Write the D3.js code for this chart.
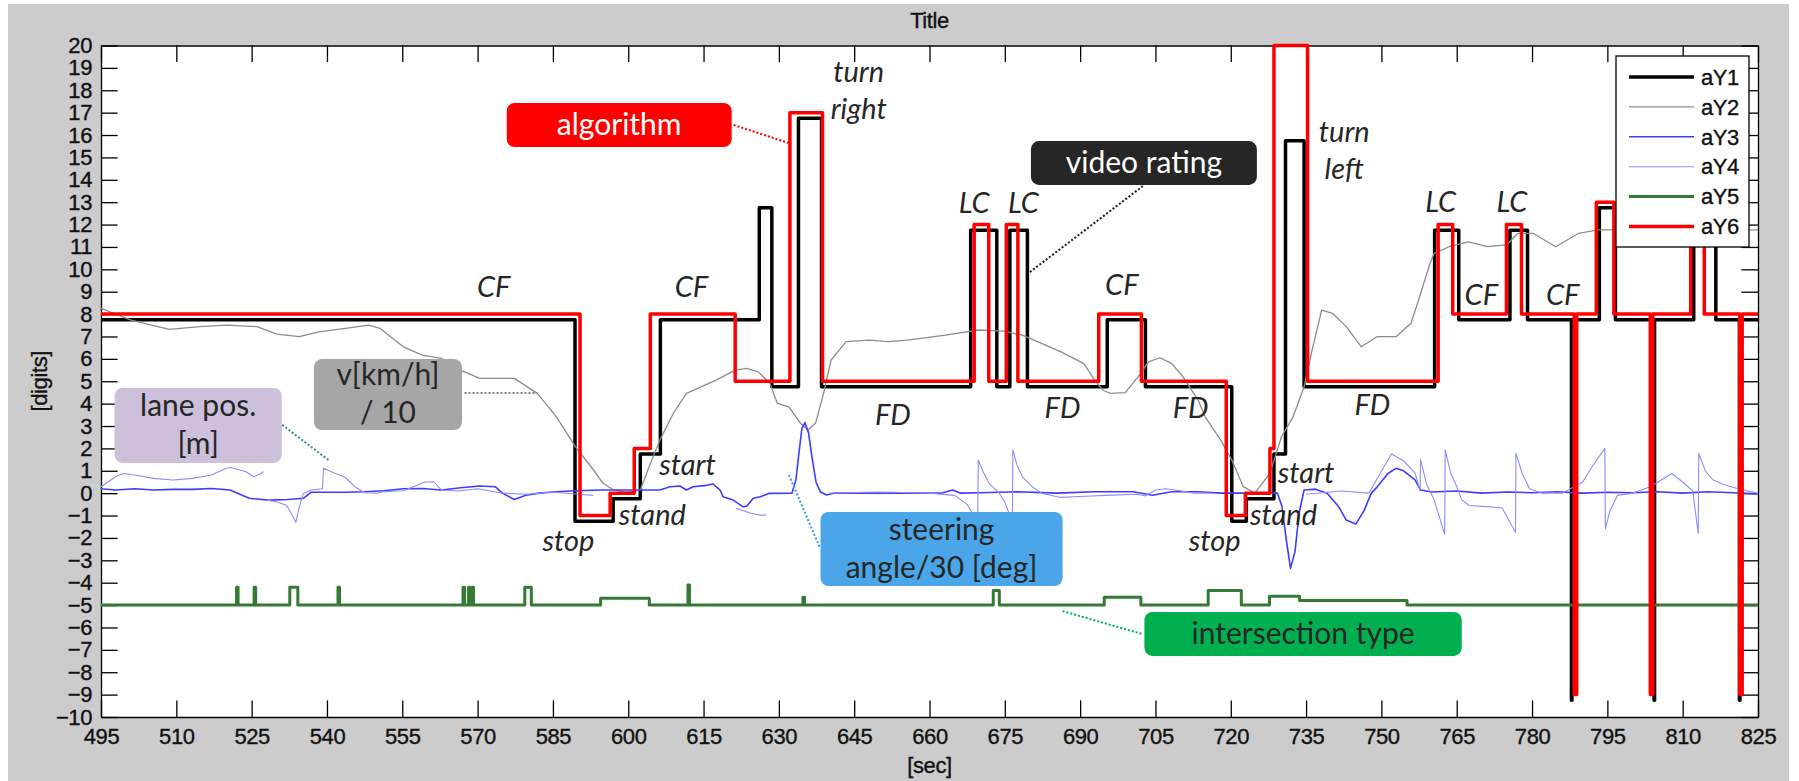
<!DOCTYPE html>
<html>
<head>
<meta charset="utf-8">
<script src="https://cdn.jsdelivr.net/npm/d3@7"></script>
<style>
  body { margin: 0; background: #fff; }
  svg { display: block; }
</style>
</head>
<body>
<div class="chart"></div>
<script>
// ---- data (time [sec], value [digits]) ----
var xTicks = d3.range(495, 826, 15);
var yTicks = d3.range(-10, 21, 1);
var seriesNames = ["aY1", "aY2", "aY3", "aY4", "aY5", "aY6"];

// video rating (black steps)
var aY1 = [[495,7.75],[589.4,-1.25],[597.0,-0.25],[602.4,1.75],[606.4,7.75],[626.1,12.75],[628.6,4.75],
  [633.9,16.75],[638.5,4.75],[668.2,11.75],[673.4,4.75],[676.0,11.75],[679.5,4.75],[695.4,7.75],[703.0,4.75],
  [720.2,-1.25],[723.1,-0.25],[728.6,1.75],[730.9,15.75],[734.6,4.75],[760.6,11.75],[765.4,7.75],[775.6,11.75],
  [779.1,7.75],[787.85,-9.25],[787.95,7.75],[793.4,12.75],[796.6,7.75],[804.3,-9.25],[804.4,7.75],[812.2,11.75],
  [816.6,7.75],[821.3,-9.25],[821.4,7.75],[825,7.75]];

// speed / 10 (grey)
var aY2 = [[495,8.26],[501,7.73],[508.6,7.32],[514.7,7.44],[520,7.51],[526.1,7.44],[530,7.11],[534.5,6.99],
  [538.4,7.21],[543.7,7.36],[548.3,7.51],[550.6,7.36],[555.2,6.54],[559,6.17],[562.8,6.02],[566.6,5.5],[570.4,5.13],
  [577.3,5.13],[581.9,4.46],[585.7,3.41],[589.5,2.07],[592.6,1.18],[595,0.44],[597,0.15],[599.5,0.05],[602.4,0.14],
  [604.2,1.2],[606.3,2.37],[609,3.57],[611.6,4.46],[617.5,5.05],[621.3,5.5],[623.6,5.58],[625.9,5.42],[628.2,4.91],
  [629.7,4.01],[632,3.86],[634.3,3.12],[635.8,2.82],[637.3,3.12],[638.9,4.46],[640.4,5.95],[643.4,6.77],[648,6.84],
  [651.8,6.77],[655.6,6.84],[663.2,7.06],[669.7,7.29],[674.7,7.24],[678.5,7.06],[682.3,6.69],[686.1,6.32],
  [690.7,5.8],[692.9,5.05],[694.5,4.61],[696,4.46],[699,4.49],[702.1,5.35],[703.6,5.87],[705.9,6.05],[708.2,5.8],
  [710.5,5.2],[713.5,4.16],[714.9,3.41],[718,2.37],[720.2,1.48],[722.5,0.29],[724.8,0.0],[727.8,0.89],[730.1,2.52],
  [732.4,3.41],[734.6,4.75],[736.2,6.39],[738.1,8.18],[740.3,8.03],[743,7.44],[746,6.54],[749.1,6.99],[752.9,6.99],
  [755.9,7.59],[757.4,8.63],[759.7,10.27],[760.5,10.71],[763.5,11.01],[767.3,11.23],[771.1,11.01],[774.9,11.09],
  [777.2,11.61],[780.2,11.61],[784.7,11.01],[789.3,11.61],[793.1,11.76],[796.1,11.76],[800,11.8],[805,11.7],
  [810,11.85],[815,11.7],[820,11.75],[825,11.76]];

// steering angle / 30 (blue)
var aY3 = [[495,0.2],[497.9,0.14],[501.7,0.2],[505.5,0.14],[509.4,0.17],[513.2,0.17],[517,0.21],[520.7,0.14],
  [524.5,-0.23],[528.4,-0.31],[532.2,-0.28],[535.3,-0.23],[536.8,0.04],[539.9,0.04],[543.7,0.04],[547.5,0.06],
  [551.3,0.11],[555.2,0.2],[559,0.21],[562.8,0.14],[566.6,0.24],[570.4,0.32],[573.5,0.29],[575,-0.01],[577.3,-0.28],
  [579.6,-0.09],[581.9,-0.01],[585.7,0.06],[589.5,0.11],[594.7,0.14],[601,0.14],[606.3,0.14],[608.3,0.29],
  [610.3,0.32],[611.6,0.14],[612.9,0.29],[615.6,0.35],[616.9,0.41],[618.3,0.14],[618.9,-0.16],[620.9,-0.31],
  [622.9,-0.61],[623.6,-0.58],[624.9,-0.23],[626.3,-0.16],[628,-0.01],[632.6,0.0],[633.4,0.6],[634.0,1.8],
  [634.6,2.9],[635.2,3.15],[635.9,2.7],[636.6,1.6],[637.4,0.5],[638.3,0.05],[639.5,-0.08],[640.9,0.0],[654.7,0.0],
  [662.3,0.0],[664.6,0.14],[666.2,0.0],[670,0.02],[677.6,0.06],[685.3,0.0],[692.9,0.06],[700.6,0.06],[704.4,-0.09],
  [708.2,0.06],[713.4,0.06],[718,0.0],[722,0.0],[725,0.02],[729.3,0.0],[730.2,-0.6],[731,-2.0],[731.9,-3.36],
  [732.8,-2.6],[733.6,-0.9],[734.6,0.14],[736.9,0.18],[739.2,0.0],[741.5,-0.61],[743,-1.2],[744.9,-1.38],
  [746.5,-0.8],[748,0.0],[749.1,0.26],[751.3,0.88],[752.9,1.11],[754.4,1.0],[756.7,0.59],[757.8,0.14],[760,0.05],
  [765,0.1],[770,0.0],[775,0.05],[780,0.02],[785,0.06],[790,0.0],[795,0.04],[800,0.02],[805,0.06],[810,0.0],
  [815,0.06],[820,0.02],[825,-0.03]];

// lane position (light blue, gaps where lane was lost)
var aY4 = [[495,0.29],[497.9,0.73],[499.4,0.88],[501.7,0.81],[505.5,0.66],[509.4,0.59],[513.2,0.66],[517,0.81],
  [520,1.11],[520.8,1.15],[523.9,0.96],[525.4,0.73],[526.9,0.88],[527.3,0.96], null,
  [528,-0.31],[530,-0.38],[532,-0.55],[533,-0.95],[533.8,-1.3],[534.5,-0.6],[535.3,-0.01],[536.8,0.14],[539.1,0.2],
  [539.3,1.11],[541,0.95],[543.7,0.7],[545.5,0.3],[547.5,0.02],[549.8,0.0],[551.3,0.06],[555.2,0.11],[558,0.35],
  [559.5,0.5],[561.3,0.51],[562.8,0.14],[566,0.1],[570,0.2],[575,0.0],[580,-0.05],[585,0.05],[590,-0.05],[593,-0.1], null,
  [621.5,-0.68],[622.6,-0.76],[624.5,-0.9],[626.3,-0.98],[627.4,-0.98], null,
  [640,0.0],[650,0.05],[660,0.0],[665,-0.1],[667.5,-0.5],[669.6,-1.3],[669.7,1.48],[670.8,0.9],[672,0.4],[673.9,0.0],
  [675,-0.4],[676.5,-1.3],[676.6,1.93],[677.5,1.2],[678.5,0.73],[680.4,0.3],[682.3,0.0],[686.1,-0.19],[690,-0.15],
  [695,-0.1],[701.3,-0.05],[703,-0.12],[705.1,0.14],[707,0.2],[708.9,0.14],[712.7,0.0],[716,0.0], null,
  [735,-0.05],[742,0.1],[747.5,0.0],[749.8,0.9],[752,1.75],[754.4,1.45],[756.7,0.9],[757.7,0.1],[757.8,1.5],
  [759,0.4],[760.5,-0.3],[762.6,-1.84],[762.7,1.93],[763.8,0.9],[765,0.3],[766,-0.3],[767.5,-0.55],[771,-0.6],
  [774,-0.65],[776.7,-1.75],[776.8,1.78],[778,0.9],[779.5,0.2],[782,0.0],[786,0.0],[790.1,0.5],[792,1.2],
  [794.5,2.0],[794.6,-1.6],[795.5,-0.8],[797,-0.1],[800,0.0],[803.7,0.3],[807.8,0.88],[810,0.5],[812,0.1],
  [813.1,-1.8],[813.2,1.78],[814.5,1.0],[816,0.6],[818,0.4],[821,0.2],[825,0.0]];

// intersection type (green steps)
var aY5 = [[495,-5],[522.0,-4.2],[522.3,-5],[525.5,-4.2],[525.8,-5],[532.6,-4.2],[534.2,-5],[542.2,-4.2],[542.5,-5],
  [567.1,-4.2],[567.4,-5],[568.2,-4.2],[568.5,-5],[568.9,-4.2],[569.2,-5],[579.4,-4.2],[580.7,-5],[594.5,-4.7],
  [604.2,-5],[611.9,-4.1],[612.2,-5],[634.8,-4.65],[635.1,-5],[672.7,-4.35],[673.9,-5],[694.8,-4.65],[702.1,-5],
  [715.5,-4.35],[722.1,-5],[727.7,-4.6],[733.7,-4.8],[755.1,-5],[825,-5]];

// algorithm (red steps)
var aY6 = [[495,8],[590.4,-1],[596.4,0],[601.2,2],[604.4,8],[621.3,5],[632.2,17],[638.7,5],[668.9,12],[671.8,5],
  [675.3,12],[677.6,5],[693.7,8],[702.2,5],[719.1,-1],[722.9,0],[727.8,2],[728.6,20],[735.3,5],[761.3,12],[764.2,8],
  [774.9,12],[777.9,8],[788.4,-9],[788.9,8],[792.8,13],[796.3,8],[803.55,-9],[804.05,8],[811.6,12],[814.3,8],
  [821.35,-9],[821.85,8],[825,8]];

// manoeuvre labels written into the plot
var stateLabels = [["CF",573.2,9.22],["CF",612.6,9.22],["CF",698.3,9.3],["turn",645.9,18.83],["right",645.9,17.19],
  ["LC",668.9,12.95],["LC",678.7,12.95],["FD",652.7,3.49],["FD",686.5,3.79],["FD",712.0,3.79],["FD",748.2,3.94],
  ["turn",742.6,16.15],["left",742.6,14.51],["LC",761.8,13.02],["LC",776.0,13.02],["CF",769.9,8.85],["CF",786.1,8.85],
  ["stop",588.1,-2.15],["stand",604.8,-0.95],["start",611.8,1.25],["stop",716.8,-2.15],["stand",730.5,-0.95],
  ["start",735.0,0.93]];

// ---- layout ----
var W = 1799, H = 781;
var margin = {left: 101, right: 1758, top: 45.5, bottom: 717};
var tickLen = 16.6;
var axisFont = "'Liberation Sans', Arial, Helvetica, sans-serif";
var noteFont = "Lato, 'Open Sans', sans-serif";

var x = d3.scaleLinear().domain([495, 825]).range([margin.left, margin.right]);
var y = d3.scaleLinear().domain([-10, 20]).range([margin.bottom, margin.top]);

var svg = d3.select("div.chart").append("svg")
  .attr("width", W).attr("height", H)
  .attr("viewBox", `0 0 ${W} ${H}`);

// matlab-ish text: slightly heavier than the plain regular face
function axisText(sel, size) {
  sel.style("font-family", axisFont).style("font-size", size + "px")
    .attr("fill", "#111").attr("stroke", "#111").attr("stroke-width", 0.35)
    .style("letter-spacing", "-0.4px");
}

// figure background
svg.append("rect").attr("width", W).attr("height", H).attr("fill", "#fff");
svg.append("rect").attr("x", 8).attr("y", 4).attr("width", 1781).attr("height", H - 4).attr("fill", "#cccccc");
svg.append("rect")
  .attr("x", margin.left).attr("y", margin.top)
  .attr("width", margin.right - margin.left).attr("height", margin.bottom - margin.top)
  .attr("fill", "#fff");

// title and axis labels
svg.append("text").attr("x", (margin.left + margin.right) / 2).attr("y", 20).attr("dy", "0.35em")
  .attr("text-anchor", "middle").call(axisText, 22).text("Title");
svg.append("text").attr("x", (margin.left + margin.right) / 2).attr("y", 765).attr("dy", "0.35em")
  .attr("text-anchor", "middle").call(axisText, 22).text("[sec]");
svg.append("text").attr("transform", "translate(39," + ((margin.top + margin.bottom) / 2) + ") rotate(-90)")
  .attr("dy", "0.35em").attr("text-anchor", "middle").call(axisText, 22).text("[digits]");

// axes, ticks pointing inward on all four sides
function styleAxis(g) {
  g.selectAll("path.domain").attr("stroke", "#000").attr("stroke-width", 1.3);
  g.selectAll(".tick line").attr("stroke", "#000").attr("stroke-width", 1.3);
  g.selectAll(".tick text").call(axisText, 22);
}
svg.append("g").attr("transform", `translate(0,${margin.bottom})`)
  .call(d3.axisBottom(x).tickValues(xTicks).tickSize(-tickLen).tickSizeOuter(0).tickPadding(11))
  .call(styleAxis);
svg.append("g").attr("transform", `translate(0,${margin.top})`)
  .call(d3.axisTop(x).tickValues(xTicks).tickSize(-tickLen).tickSizeOuter(0).tickFormat(""))
  .call(styleAxis);
svg.append("g").attr("transform", `translate(${margin.left},0)`)
  .call(d3.axisLeft(y).tickValues(yTicks).tickSize(-tickLen).tickSizeOuter(0).tickPadding(9))
  .call(styleAxis);
svg.append("g").attr("transform", `translate(${margin.right},0)`)
  .call(d3.axisRight(y).tickValues(yTicks).tickSize(-tickLen).tickSizeOuter(0).tickFormat(""))
  .call(styleAxis);

// series
var stepPath = d3.line().x(d => x(d[0])).y(d => y(d[1])).curve(d3.curveStepAfter);
var linePath = d3.line().defined(d => d !== null).x(d => x(d[0])).y(d => y(d[1]));

var series = [
  {name: "aY1", data: aY1, color: "#000000", width: 3.5, path: stepPath},
  {name: "aY2", data: aY2, color: "#8c8c8c", width: 1.3, path: linePath},
  {name: "aY3", data: aY3, color: "#3c3cff", width: 1.6, path: linePath},
  {name: "aY4", data: aY4, color: "#8c8cff", width: 1.1, path: linePath},
  {name: "aY5", data: aY5, color: "#357a34", width: 3, path: stepPath},
  {name: "aY6", data: aY6, color: "#ff0000", width: 3.5, path: stepPath}
];

svg.append("g").selectAll("path").data(series).join("path")
  .attr("d", s => s.path(s.data))
  .attr("fill", "none")
  .attr("stroke", s => s.color)
  .attr("stroke-width", s => s.width)
  .attr("stroke-linejoin", "round");

// legend
var legend = svg.append("g").attr("transform", "translate(1616,56)");
legend.append("rect").attr("width", 133).attr("height", 191)
  .attr("fill", "#fff").attr("stroke", "#000").attr("stroke-width", 1.3);
var item = legend.selectAll("g.item").data(series).join("g").attr("class", "item")
  .attr("transform", (s, i) => `translate(0,${21 + i * 29.9})`);
item.append("line").attr("x1", 13).attr("x2", 78)
  .attr("stroke", s => s.color).attr("stroke-width", s => s.width);
item.append("text").attr("x", 85).attr("dy", "0.35em").call(axisText, 22).text(s => s.name);

// manoeuvre labels
svg.append("g").selectAll("text").data(stateLabels).join("text")
  .attr("x", d => x(d[1])).attr("y", d => y(d[2])).attr("dy", "0.35em")
  .attr("text-anchor", "middle")
  .style("font-family", noteFont).style("font-style", "italic").style("font-size", "29px")
  .attr("fill", "#262626").text(d => d[0]);

// callout boxes with dotted leaders
var leaders = [
  {from: [621.0, 16.45], to: [632.0, 15.64], color: "#ff0000"},
  {from: [702.5, 13.72], to: [680.0, 9.88], color: "#1a1a1a"},
  {from: [567.4, 4.47], to: [581.9, 4.47], color: "#7f7f7f"},
  {from: [531.1, 3.05], to: [540.3, 1.48], color: "#31859c"},
  {from: [632.0, 0.81], to: [638.1, -2.4], color: "#3d9be0"},
  {from: [686.5, -5.27], to: [702.5, -6.3], color: "#00b050"}
];
svg.append("g").selectAll("line").data(leaders).join("line")
  .attr("x1", d => x(d.from[0])).attr("y1", d => y(d.from[1]))
  .attr("x2", d => x(d.to[0])).attr("y2", d => y(d.to[1]))
  .attr("stroke", d => d.color).attr("stroke-width", 2).attr("stroke-dasharray", "2,2");

var notes = [
  {lines: ["algorithm"], x0: 575.8, x1: 620.6, y0: 17.43, y1: 15.46, fill: "#ff0000", ink: "#ffffff"},
  {lines: ["video rating"], x0: 680.2, x1: 725.2, y0: 15.73, y1: 13.77, fill: "#262626", ink: "#ffffff"},
  {lines: ["v[km/h]", "/ 10"], x0: 537.4, x1: 566.9, y0: 5.99, y1: 2.82, fill: "#a6a6a6", ink: "#262626"},
  {lines: ["lane pos.", "[m]"], x0: 497.7, x1: 531.0, y0: 4.7, y1: 1.35, fill: "#ccc0da", ink: "#262626"},
  {lines: ["steering", "angle/30 [deg]"], x0: 638.3, x1: 686.5, y0: -0.84, y1: -4.15, fill: "#4aa6e8", ink: "#262626"},
  {lines: ["intersection type"], x0: 702.8, x1: 766.0, y0: -5.31, y1: -7.27, fill: "#00b050", ink: "#262626"}
];
var note = svg.append("g").selectAll("g").data(notes).join("g");
note.append("rect")
  .attr("x", d => x(d.x0)).attr("y", d => y(d.y0))
  .attr("width", d => x(d.x1) - x(d.x0)).attr("height", d => y(d.y1) - y(d.y0))
  .attr("rx", 8).attr("fill", d => d.fill);
note.each(function(d) {
  var cx = (x(d.x0) + x(d.x1)) / 2, cy = (y(d.y0) + y(d.y1)) / 2;
  var lh = 38;
  d3.select(this).selectAll("text").data(d.lines).join("text")
    .attr("x", cx).attr("y", (t, i) => cy + (i - (d.lines.length - 1) / 2) * lh)
    .attr("dy", "0.33em").attr("text-anchor", "middle")
    .style("font-family", noteFont).style("font-size", "30px")
    .attr("fill", d.ink).text(t => t);
});
</script>
</body>
</html>
